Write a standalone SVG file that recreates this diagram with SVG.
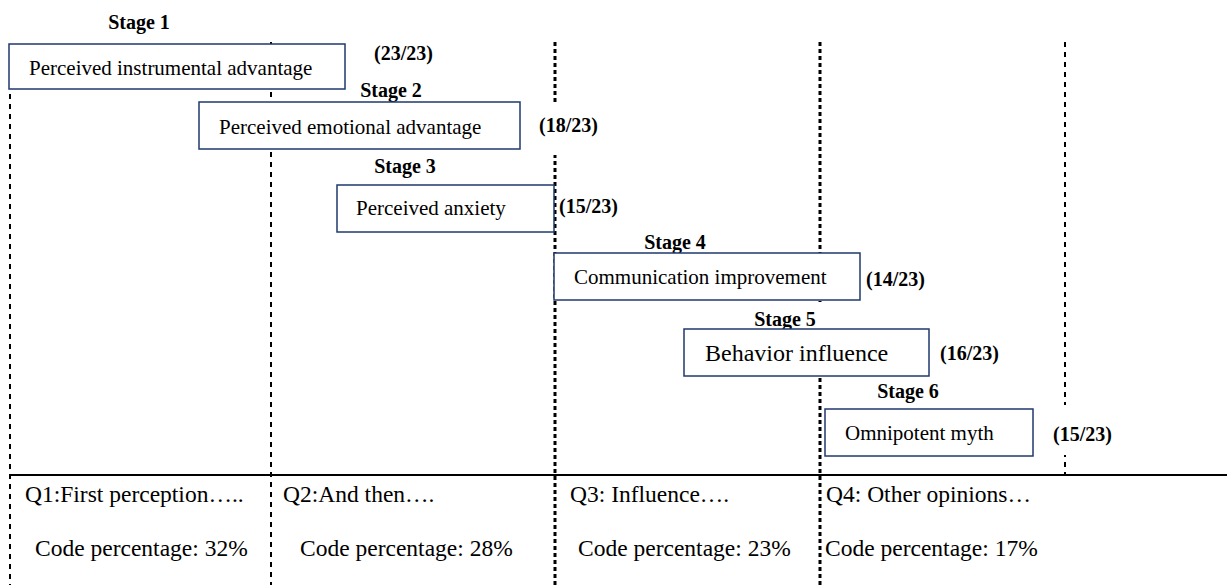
<svg xmlns="http://www.w3.org/2000/svg" width="1227" height="585" viewBox="0 0 1227 585">
<style>
.box{fill:#fff;stroke:#1f3a6e;stroke-width:1.5}
.bg{fill:#fff;stroke:none}
.t{font-family:"Liberation Serif","Times New Roman",serif;font-size:21px;fill:#000}
.tb{font-family:"Liberation Serif","Times New Roman",serif;font-size:20px;font-weight:bold;fill:#000}
.q{font-family:"Liberation Serif","Times New Roman",serif;font-size:23.5px;fill:#000}
.dl{stroke:#000;stroke-width:2;stroke-dasharray:5 5;fill:none}
.dd{stroke:#000;stroke-width:3;stroke-dasharray:4 3;fill:none}
</style>
<g id="connectors">
<line class="dl" x1="10" y1="44" x2="10" y2="585"/>
<line class="dl" x1="271" y1="42" x2="271" y2="585"/>
<line class="dd" x1="555" y1="42" x2="555" y2="585"/>
<line class="dd" x1="820" y1="42" x2="820" y2="585"/>
<line class="dl" x1="1065" y1="42" x2="1065" y2="475"/>
<line x1="10" y1="475" x2="1227" y2="475" stroke="#000" stroke-width="2"/>
</g>
<g id="stage1">
<text class="tb" x="139" y="29" text-anchor="middle">Stage 1</text>
<rect class="box" x="9" y="44" width="336" height="45"/>
<text class="t" x="29" y="75">Perceived instrumental advantage</text>
<text class="tb" x="374" y="60">(23/23)</text>
</g>
<g id="stage2">
<text class="tb" x="391" y="97" text-anchor="middle">Stage 2</text>
<rect class="box" x="199" y="102" width="321" height="47"/>
<text class="t" x="219" y="134">Perceived emotional advantage</text>
<rect class="bg" x="530" y="105" width="80" height="50"/>
<text class="tb" x="539" y="132">(18/23)</text>
</g>
<g id="stage3">
<text class="tb" x="405" y="173" text-anchor="middle">Stage 3</text>
<rect class="box" x="337" y="185" width="217" height="47"/>
<text class="t" x="356" y="215">Perceived anxiety</text>
<text class="tb" x="559" y="213">(15/23)</text>
</g>
<g id="stage4">
<text class="tb" x="675" y="249" text-anchor="middle">Stage 4</text>
<rect class="box" x="554" y="253" width="306" height="47"/>
<text class="t" x="574" y="284">Communication improvement</text>
<text class="tb" x="866" y="286">(14/23)</text>
</g>
<g id="stage5">
<rect class="bg" x="745" y="302" width="84" height="27"/>
<text class="tb" x="785" y="326" text-anchor="middle">Stage 5</text>
<rect class="box" x="684" y="329" width="245" height="47"/>
<text class="t" x="705" y="361" style="font-size:24px">Behavior influence</text>
<text class="tb" x="940" y="360">(16/23)</text>
</g>
<g id="stage6">
<text class="tb" x="908" y="398" text-anchor="middle">Stage 6</text>
<rect class="box" x="825" y="409" width="208" height="47"/>
<text class="t" x="845" y="440">Omnipotent myth</text>
<rect class="bg" x="1045" y="405" width="80" height="50"/>
<text class="tb" x="1053" y="441">(15/23)</text>
</g>
<g id="q1">
<text class="q" x="25" y="502">Q1:First perception…..</text>
<text class="q" x="35" y="556">Code percentage: 32%</text>
</g>
<g id="q2">
<text class="q" x="283" y="502">Q2:And then….</text>
<text class="q" x="300" y="556">Code percentage: 28%</text>
</g>
<g id="q3">
<text class="q" x="570" y="502">Q3: Influence….</text>
<text class="q" x="578" y="556">Code percentage: 23%</text>
</g>
<g id="q4">
<text class="q" x="826" y="502">Q4: Other opinions…</text>
<text class="q" x="825" y="556">Code percentage: 17%</text>
</g>
</svg>
